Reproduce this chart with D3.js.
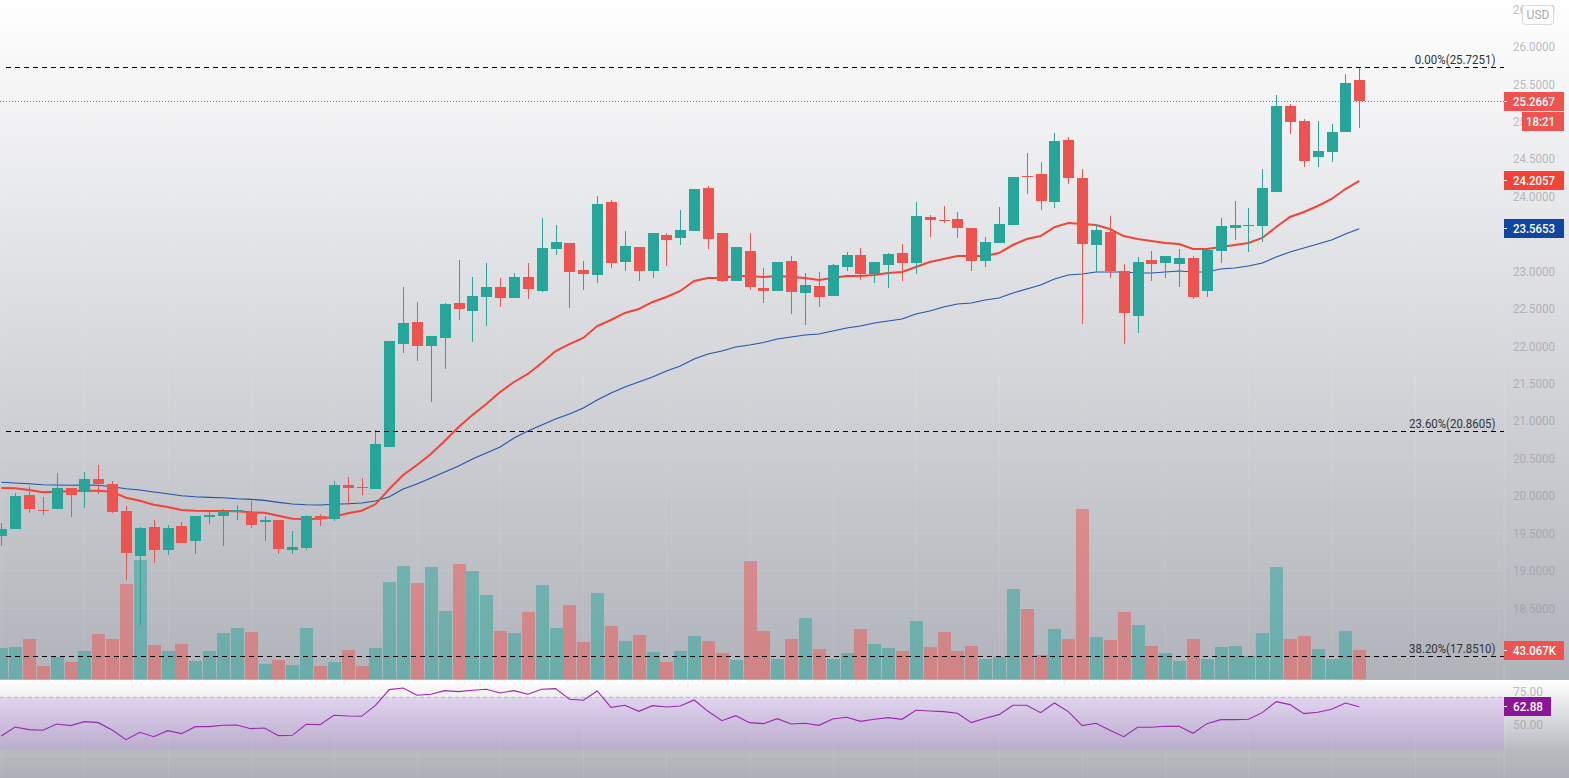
<!DOCTYPE html>
<html>
<head>
<meta charset="utf-8">
<script src="https://cdn.jsdelivr.net/npm/d3@7"></script>
<style>
    html, body { margin: 0; padding: 0; background: #fff; overflow: hidden; }
    svg { display: block; font-family: Roboto, sans-serif; }
</style>
</head>
<body>
<div id="chart"></div>
<script>
var opens = [19.460,19.554,20.008,19.808,19.821,20.102,20.048,20.222,20.155,19.794,
    19.193,19.580,19.273,19.594,19.393,19.714,19.727,19.781,19.781,19.647,
    19.674,19.273,19.300,19.727,19.687,20.142,20.115,20.088,20.649,22.025,
    22.319,21.999,22.106,22.573,22.466,22.653,22.787,22.640,22.921,22.734,
    23.295,23.375,23.014,22.947,23.922,23.121,23.321,23.001,23.482,23.442,
    23.535,24.110,23.508,22.867,23.268,22.774,22.734,23.134,22.707,22.800,
    22.667,23.054,23.214,22.961,23.081,23.241,23.108,23.722,23.682,23.695,
    23.575,23.134,23.375,23.615,24.270,24.297,23.922,24.751,24.243,23.348,
    23.522,23.001,22.400,23.148,23.108,23.094,23.174,22.734,23.268,23.575,
    23.602,23.602,24.056,25.205,25.005,24.524,24.590,24.858,25.552];
var highs = [19.634,20.035,20.128,19.981,20.302,20.102,20.315,20.409,20.195,19.861,
    19.580,19.674,19.607,19.647,19.727,19.781,19.821,19.874,19.928,19.727,
    19.674,19.527,19.741,19.754,20.195,20.249,20.235,20.876,22.065,22.787,
    22.587,22.132,22.573,23.148,22.921,23.108,22.907,22.974,23.108,23.709,
    23.615,23.375,23.134,24.003,23.949,23.535,23.321,23.508,23.508,23.816,
    24.096,24.136,23.508,23.321,23.508,23.041,23.121,23.201,22.974,22.987,
    23.094,23.254,23.308,23.121,23.241,23.361,23.922,23.749,23.869,23.789,
    23.575,23.455,23.856,24.257,24.577,24.457,24.844,24.791,24.363,23.629,
    23.735,23.094,23.188,23.268,23.201,23.295,23.201,23.281,23.709,23.936,
    23.842,24.363,25.352,25.232,25.031,25.005,24.965,25.633,25.7251];
var lows = [19.327,19.554,19.768,19.741,19.821,19.714,19.834,20.021,19.768,18.872,
    18.271,19.100,19.206,19.367,19.220,19.621,19.327,19.674,19.567,19.393,
    19.220,19.220,19.273,19.594,19.661,19.874,20.008,20.088,20.649,21.905,
    21.798,21.250,21.691,22.346,22.052,22.266,22.520,22.640,22.627,22.720,
    23.214,22.506,22.747,22.840,23.041,23.001,22.867,22.907,23.068,23.348,
    23.535,23.295,22.854,22.867,22.747,22.573,22.734,22.426,22.279,22.520,
    22.667,23.001,22.881,22.840,22.774,22.867,22.961,23.455,23.642,23.442,
    23.001,23.054,23.375,23.615,24.029,23.816,23.842,24.163,22.293,22.987,
    22.907,22.025,22.172,22.867,22.907,22.787,22.627,22.653,23.108,23.415,
    23.254,23.388,24.056,24.831,24.390,24.390,24.457,24.858,24.911];
var closes = [19.554,19.995,19.821,19.794,20.102,20.008,20.222,20.155,19.781,19.233,
    19.567,19.273,19.567,19.367,19.727,19.741,19.794,19.808,19.607,19.674,
    19.287,19.313,19.727,19.687,20.142,20.102,20.102,20.689,22.065,22.306,
    21.999,22.132,22.560,22.493,22.667,22.787,22.640,22.921,22.760,23.308,
    23.388,22.987,22.961,23.896,23.108,23.335,23.001,23.508,23.415,23.549,
    24.096,23.428,22.867,23.321,22.787,22.734,23.121,22.720,22.814,22.653,
    23.081,23.214,22.961,23.121,23.228,23.108,23.735,23.682,23.669,23.575,
    23.134,23.388,23.629,24.257,24.257,23.936,24.738,24.243,23.361,23.549,
    23.001,22.440,23.121,23.094,23.201,23.174,22.653,23.281,23.602,23.615,
    23.615,24.110,25.205,24.991,24.470,24.604,24.858,25.512,25.2667];
var emaFast = [20.102,20.098,20.075,20.044,20.052,20.062,20.066,20.066,20.052,19.972,
    19.932,19.878,19.848,19.808,19.798,19.794,19.794,19.790,19.777,19.771,
    19.731,19.691,19.687,19.691,19.718,19.764,19.798,19.884,20.088,20.275,
    20.409,20.556,20.730,20.917,21.077,21.224,21.384,21.518,21.625,21.771,
    21.932,22.025,22.106,22.266,22.346,22.440,22.493,22.587,22.653,22.734,
    22.867,22.907,22.907,22.934,22.934,22.921,22.934,22.921,22.907,22.881,
    22.907,22.934,22.934,22.947,22.974,22.987,23.054,23.121,23.161,23.201,
    23.201,23.201,23.241,23.348,23.428,23.468,23.588,23.642,23.629,23.615,
    23.562,23.468,23.428,23.401,23.375,23.361,23.295,23.295,23.321,23.348,
    23.375,23.442,23.588,23.722,23.789,23.869,23.963,24.096,24.2057];
var emaSlow = [20.178,20.168,20.159,20.146,20.142,20.138,20.142,20.138,20.119,20.092,
    20.075,20.048,20.025,19.999,19.985,19.977,19.972,19.958,19.950,19.937,
    19.910,19.888,19.878,19.874,19.884,19.892,19.901,19.928,19.985,20.088,
    20.155,20.235,20.315,20.395,20.489,20.569,20.649,20.770,20.863,20.943,
    21.023,21.090,21.170,21.277,21.371,21.451,21.518,21.584,21.665,21.731,
    21.825,21.892,21.932,21.985,22.012,22.045,22.092,22.119,22.146,22.159,
    22.199,22.239,22.266,22.306,22.333,22.360,22.426,22.466,22.520,22.560,
    22.573,22.613,22.640,22.707,22.760,22.814,22.894,22.947,22.961,22.987,
    22.987,22.987,22.974,22.974,22.987,23.001,22.987,22.987,23.027,23.041,
    23.068,23.108,23.188,23.254,23.308,23.361,23.415,23.495,23.5653];
var volumes = [46.0,47.5,59.4,19.3,32.7,25.2,41.6,66.8,59.4,141.1,
    176.7,50.5,41.6,52.0,26.7,41.6,68.3,75.7,69.8,22.3,
    28.2,20.8,75.7,19.3,25.2,43.1,19.3,46.0,144.0,167.8,
    142.6,166.3,101.0,170.8,160.4,124.7,71.3,68.3,99.5,139.6,
    75.7,109.9,54.9,127.7,78.7,56.4,65.3,40.1,25.2,41.6,
    63.9,56.4,38.6,28.2,175.2,71.3,29.7,59.4,90.6,44.6,
    29.7,38.6,74.3,52.0,46.0,41.6,86.1,47.5,69.8,41.6,
    49.0,29.7,32.7,133.7,104.0,35.6,74.3,59.4,252.5,62.4,
    57.9,99.5,80.2,49.0,38.6,26.7,59.4,29.7,47.5,49.0,
    34.2,68.3,166.3,59.4,63.9,44.6,29.7,71.3,43.067];
var rsi = [40.63,47.47,45.44,44.94,49.75,48.48,51.52,50.76,45.19,37.85,
    43.42,40.13,44.68,42.41,47.72,47.72,48.73,48.99,46.20,46.71,
    40.89,41.14,49.49,49.24,56.33,55.82,55.57,63.92,75.82,77.09,
    71.52,72.28,75.06,74.30,75.32,76.08,73.29,75.06,72.28,76.08,
    76.58,68.48,67.72,74.81,62.41,63.92,59.37,63.67,62.66,63.42,
    67.97,59.37,52.28,56.08,50.76,50.00,53.80,49.75,50.25,48.73,
    53.54,54.81,51.77,53.29,54.56,53.29,60.13,59.62,59.11,57.85,
    50.76,54.05,56.84,63.92,63.92,58.35,65.70,59.11,48.48,50.25,
    44.94,40.13,47.22,47.22,47.97,47.97,42.66,50.00,53.04,53.04,
    53.29,58.35,66.71,64.43,57.59,58.61,60.89,65.70,62.88];
var priceTicks = [26.5,26,25.5,25,24.5,24,23,22.5,22,21.5,21,20.5,20,19.5,19,18.5];
var rsiTicks = [75,50];
var fibLevels = [25.7251,20.8605,17.8510];
var fibNames = ["0.00%","23.60%","38.20%"];
var gridIndexes = d3.range(0,109,6);

var width = 1569, height = 778, axisX = 1504;
var up = "#26a69a", down = "#ef5350";

var x = d3.scaleLinear().domain([0,98]).range([1.3,1359.3]);
var y = d3.scaleLinear().domain([26,18.5]).range([46.5,607.9]);
var yVol = d3.scaleLinear().domain([0,252.5]).range([679,509]);
var yRsi = d3.scaleLinear().domain([70,30]).range([697.3,750]);

var svg = d3.select("#chart").append("svg").attr("width",width).attr("height",height);

var defs = svg.append("defs");
var mainGrad = defs.append("linearGradient").attr("id","mainBg").attr("x2",0).attr("y2",1);
mainGrad.append("stop").attr("offset",0).attr("stop-color","#ffffff");
mainGrad.append("stop").attr("offset",1).attr("stop-color","#b0b3ba");
var rsiGrad = defs.append("linearGradient").attr("id","rsiBg").attr("x2",0).attr("y2",1);
rsiGrad.append("stop").attr("offset",0).attr("stop-color","#ffffff");
rsiGrad.append("stop").attr("offset",0.72).attr("stop-color","#b8bac0");
rsiGrad.append("stop").attr("offset",1).attr("stop-color","#aeb0b8");
var bandGrad = defs.append("linearGradient").attr("id","rsiBand").attr("x2",0).attr("y2",1);
bandGrad.append("stop").attr("offset",0).attr("stop-color","#9943ea").attr("stop-opacity",0.15);
bandGrad.append("stop").attr("offset",1).attr("stop-color","#c274ff").attr("stop-opacity",0.2);

svg.append("rect").attr("width",width).attr("height",680).attr("fill","url(#mainBg)");
svg.append("rect").attr("y",680).attr("width",width).attr("height",98).attr("fill","url(#rsiBg)");

// grid
var grid = svg.append("g").attr("stroke","#ffffff").attr("stroke-opacity",0.07).attr("shape-rendering","crispEdges");
grid.selectAll(".v").data(gridIndexes).enter().append("line")
    .attr("x1",function(d){ return Math.round(x(d))+0.5; })
    .attr("x2",function(d){ return Math.round(x(d))+0.5; })
    .attr("y1",0).attr("y2",height);
grid.selectAll(".h").data(priceTicks).enter().append("line")
    .attr("x1",0).attr("x2",axisX)
    .attr("y1",function(d){ return Math.round(y(d))+0.5; })
    .attr("y2",function(d){ return Math.round(y(d))+0.5; });
grid.append("line").attr("x1",axisX+0.5).attr("x2",axisX+0.5).attr("y1",0).attr("y2",height);
grid.append("line").attr("x1",0).attr("x2",axisX).attr("y1",yRsi(25)).attr("y2",yRsi(25));

// volume
svg.append("g").selectAll("rect").data(volumes).enter().append("rect")
    .attr("x",function(d,i){ return Math.round(x(i))-6; })
    .attr("width",13)
    .attr("y",function(d){ return Math.round(yVol(d)); })
    .attr("height",function(d){ return 679-Math.round(yVol(d)); })
    .attr("fill",function(d,i){ return closes[i]>=opens[i] ? up : down; })
    .attr("fill-opacity",0.5)
    .attr("shape-rendering","crispEdges");

// moving averages, behind the candles
var lineOf = d3.line().x(function(d,i){ return x(i); }).y(function(d){ return y(d); });
svg.append("path").attr("d",lineOf(emaSlow)).attr("fill","none").attr("stroke","#0d47a1").attr("stroke-width",1.1).attr("stroke-opacity",0.9);
svg.append("path").attr("d",lineOf(emaFast)).attr("fill","none").attr("stroke","#f44336").attr("stroke-width",2);

// candles
var candles = svg.append("g").attr("shape-rendering","crispEdges");
opens.forEach(function(o,i){
    var c = closes[i];
    var color = c>=o ? up : down;
    var cx = Math.round(x(i));
    var top = Math.round(y(Math.max(o,c)));
    var bottom = Math.round(y(Math.min(o,c)));
    candles.append("rect").attr("x",cx).attr("width",1)
        .attr("y",Math.round(y(highs[i])))
        .attr("height",Math.round(y(lows[i]))-Math.round(y(highs[i])))
        .attr("fill",color);
    candles.append("rect").attr("x",cx-5).attr("width",11)
        .attr("y",top).attr("height",Math.max(1,bottom-top))
        .attr("fill",color);
});

// last price line
svg.append("line").attr("x1",0).attr("x2",axisX)
    .attr("y1",Math.round(y(closes[98]))+0.5).attr("y2",Math.round(y(closes[98]))+0.5)
    .attr("stroke",down).attr("stroke-dasharray","1,2");

// fib levels
fibLevels.forEach(function(level,i){
    var ly = Math.round(y(level))+0.5;
    svg.append("line").attr("x1",6).attr("x2",axisX).attr("y1",ly).attr("y2",ly)
        .attr("stroke","#000").attr("stroke-dasharray","5,4");
    var label = fibNames[i]+"("+d3.format(".4f")(level)+")";
    svg.append("text").attr("x",1495.5).attr("y",ly-4).attr("text-anchor","end")
        .attr("font-size",12).attr("fill","#333")
        .attr("textLength",label.length*5.76).attr("lengthAdjust","spacingAndGlyphs")
        .text(label);
});

// price axis
var priceAxis = d3.axisRight(y).tickValues(priceTicks).tickFormat(d3.format(".4f")).tickSize(0);
var gp = svg.append("g").attr("transform","translate("+axisX+",0)").call(priceAxis);
gp.select(".domain").remove();
gp.selectAll("text").attr("x",51).attr("text-anchor","end")
    .attr("font-family","Roboto, sans-serif").attr("font-size",13)
    .attr("fill","#9598a1").attr("fill-opacity",0.65)
    .attr("textLength",42).attr("lengthAdjust","spacingAndGlyphs");

// rsi pane
var rsiPane = svg.append("g");
rsiPane.append("rect").attr("x",0).attr("width",axisX)
    .attr("y",yRsi(70)).attr("height",yRsi(30)-yRsi(70))
    .attr("fill","url(#rsiBand)");
rsiPane.append("line").attr("x1",0).attr("x2",axisX).attr("y1",yRsi(70)).attr("y2",yRsi(70))
    .attr("stroke","#b8b8bc").attr("stroke-dasharray","4,3");
var rsiLine = d3.line().x(function(d,i){ return x(i); }).y(function(d){ return yRsi(d); });
rsiPane.append("path").attr("d",rsiLine(rsi)).attr("fill","none").attr("stroke","#9c27b0").attr("stroke-width",1.1);
var rsiAxis = d3.axisRight(yRsi).tickValues(rsiTicks).tickFormat(d3.format(".2f")).tickSize(0);
var gr = svg.append("g").attr("transform","translate("+axisX+",1)").call(rsiAxis);
gr.select(".domain").remove();
gr.selectAll("text").attr("x",39).attr("text-anchor","end")
    .attr("font-family","Roboto, sans-serif").attr("font-size",13)
    .attr("fill","#9598a1").attr("fill-opacity",0.65)
    .attr("textLength",30).attr("lengthAdjust","spacingAndGlyphs");

// value boxes on the axis
function valueBox(cy,text,color,boxX,boxW,textEnd,textW){
    var top = Math.round(cy-9.5);
    svg.append("rect").attr("x",boxX).attr("y",top).attr("width",boxW).attr("height",19)
        .attr("fill",color).attr("shape-rendering","crispEdges");
    svg.append("text").attr("x",textEnd).attr("y",top+14).attr("text-anchor","end")
        .attr("font-size",13).attr("font-weight",500).attr("fill","#fff")
        .attr("textLength",textW).attr("lengthAdjust","spacingAndGlyphs").text(text);
    if (boxX==axisX) {
        svg.append("rect").attr("x",boxX).attr("y",top+9).attr("width",3).attr("height",1).attr("fill","#fff");
    }
}
valueBox(y(closes[98]),d3.format(".4f")(closes[98]),down,axisX,60,1555,42);
valueBox(y(closes[98])+20,"18:21",down,1522,42,1555,29);
valueBox(y(emaFast[98]),d3.format(".4f")(emaFast[98]),"#f44336",axisX,60,1555,42);
valueBox(y(emaSlow[98]),d3.format(".4f")(emaSlow[98]),"#0d47a1",axisX,60,1555,42);
valueBox(yVol(volumes[98]),"43.067K",down,axisX,60,1556,43);
valueBox(yRsi(rsi[98]),d3.format(".2f")(rsi[98]),"#8e1599",axisX,47,1543,30);

// currency button
svg.append("rect").attr("x",1522.5).attr("y",5.5).attr("width",31).attr("height",19).attr("rx",3)
    .attr("fill","#fff").attr("fill-opacity",0.92).attr("stroke","#d9dadd");
svg.append("text").attr("x",1538).attr("y",19).attr("text-anchor","middle")
    .attr("font-size",12).attr("fill","#a8abb2").text("USD");
</script>
</body>
</html>
